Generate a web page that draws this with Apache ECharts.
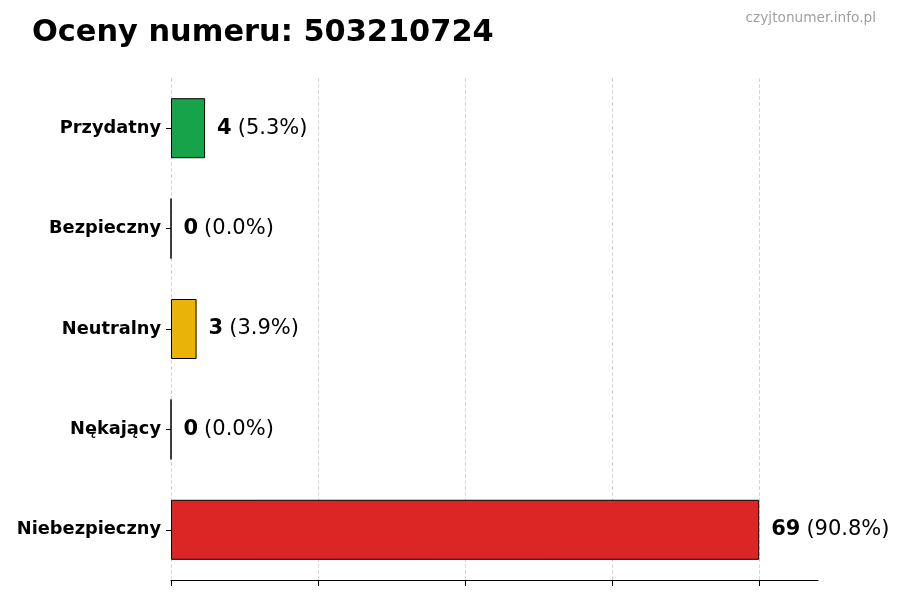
<!DOCTYPE html>
<html><head><meta charset="utf-8">
<script src="https://cdn.jsdelivr.net/npm/echarts@6/dist/echarts.min.js"></script>
<style>html,body{margin:0;padding:0;background:#fff}#c{width:900px;height:600px}</style>
</head><body><div id="c"></div>
<script>
const categories = ['Przydatny', 'Bezpieczny', 'Neutralny', 'Nękający', 'Niebezpieczny'];
const values = [4, 0, 3, 0, 69];
const percents = ['5.3%', '0.0%', '3.9%', '0.0%', '90.8%'];
const barColors = ['#16a34a', '#2563eb', '#eab308', '#ea580c', '#dc2626'];
const xTicks = [0, 17.25, 34.5, 51.75, 69];
const xMax = 75.9;
const FONT = 'DejaVu Sans';

const chart = echarts.init(document.getElementById('c'));
chart.setOption({
  animation: false,
  backgroundColor: '#fff',
  textStyle: { fontFamily: FONT },
  title: [
    { text: 'Oceny numeru: 503210724', left: 27, top: 13,
      textStyle: { fontFamily: FONT, fontWeight: 'bold', fontSize: 30.4, color: '#000' } },
    { text: 'czyjtonumer.info.pl', right: 19, top: 6,
      textStyle: { fontFamily: FONT, fontWeight: 'normal', fontSize: 13.7, color: '#a0a0a0' } }
  ],
  grid: { left: 171, right: 82, top: 78, bottom: 20, containLabel: false },
  xAxis: {
    type: 'value', min: 0, max: xMax,
    axisLine: { show: true, lineStyle: { color: '#000', width: 1.2 } },
    axisTick: { show: true, customValues: xTicks, length: 6, inside: false, lineStyle: { color: '#000', width: 1 } },
    axisLabel: { show: false, customValues: xTicks },
    splitLine: { show: true, lineStyle: { color: '#d8d8d8', type: [4, 2], width: 1 } }
  },
  yAxis: {
    type: 'category', data: categories, inverse: true,
    axisLine: { show: false },
    axisTick: { show: true, alignWithLabel: true, length: 5, lineStyle: { color: '#000' } },
    axisLabel: { fontFamily: FONT, fontWeight: 'bold', fontSize: 17.8, color: '#000', margin: 10, padding: [4, 0, 0, 0] }
  },
  series: [{
    type: 'bar',
    barWidth: 60,
    data: values.map((v, i) => ({
      value: v,
      itemStyle: { color: barColors[i], borderColor: '#000', borderWidth: 1 },
      label: {
        show: true, position: 'right', distance: 12,
        formatter: '{b|' + v + '}{s| }{n|(' + percents[i] + ')}',
        rich: {
          b: { fontFamily: FONT, fontWeight: 'bold', fontSize: 21, color: '#000' },
          s: { fontFamily: FONT, fontSize: 21, width: 6 },
          n: { fontFamily: FONT, fontWeight: 'normal', fontSize: 21, color: '#000' }
        }
      }
    }))
  }]
});
</script></body></html>
